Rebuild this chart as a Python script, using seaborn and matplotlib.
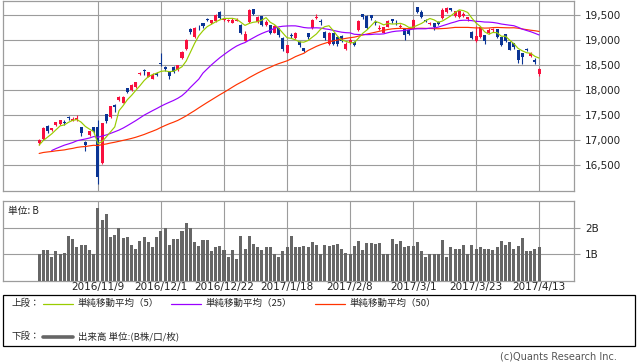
import numpy as np
import pandas as pd
import matplotlib
matplotlib.use("Agg")
import matplotlib.pyplot as plt
import seaborn as sns
from matplotlib.lines import Line2D
from matplotlib.patches import Rectangle
from matplotlib.ticker import FuncFormatter, FixedLocator

# ---------------- data ----------------
dates = [
    "2016/10/19", "2016/10/20", "2016/10/21", "2016/10/24", "2016/10/25", "2016/10/26", "2016/10/27", "2016/10/28", "2016/10/31",
    "2016/11/1", "2016/11/2", "2016/11/4", "2016/11/7", "2016/11/8", "2016/11/9", "2016/11/10", "2016/11/11", "2016/11/14",
    "2016/11/15", "2016/11/16", "2016/11/17", "2016/11/18", "2016/11/21", "2016/11/22", "2016/11/24", "2016/11/25", "2016/11/28",
    "2016/11/29", "2016/11/30", "2016/12/1", "2016/12/2", "2016/12/5", "2016/12/6", "2016/12/7", "2016/12/8", "2016/12/9",
    "2016/12/12", "2016/12/13", "2016/12/14", "2016/12/15", "2016/12/16", "2016/12/19", "2016/12/20", "2016/12/21", "2016/12/22",
    "2016/12/26", "2016/12/27", "2016/12/28", "2016/12/29", "2016/12/30",
    "2017/1/4", "2017/1/5", "2017/1/6", "2017/1/10", "2017/1/11", "2017/1/12", "2017/1/13", "2017/1/16", "2017/1/17", "2017/1/18",
    "2017/1/19", "2017/1/20", "2017/1/23", "2017/1/24", "2017/1/25", "2017/1/26", "2017/1/27", "2017/1/30", "2017/1/31",
    "2017/2/1", "2017/2/2", "2017/2/3", "2017/2/6", "2017/2/7", "2017/2/8", "2017/2/9", "2017/2/10", "2017/2/13", "2017/2/14",
    "2017/2/15", "2017/2/16", "2017/2/17", "2017/2/20", "2017/2/21", "2017/2/22", "2017/2/23", "2017/2/24", "2017/2/27", "2017/2/28",
    "2017/3/1", "2017/3/2", "2017/3/3", "2017/3/6", "2017/3/7", "2017/3/8", "2017/3/9", "2017/3/10", "2017/3/13", "2017/3/14",
    "2017/3/15", "2017/3/16", "2017/3/17", "2017/3/21", "2017/3/22", "2017/3/23", "2017/3/24", "2017/3/27", "2017/3/28",
    "2017/3/29", "2017/3/30", "2017/3/31", "2017/4/3", "2017/4/4", "2017/4/5", "2017/4/6", "2017/4/7", "2017/4/10",
    "2017/4/11", "2017/4/12", "2017/4/13",
]

opens = [
    16950, 17030, 17280, 17200, 17300, 17320, 17350, 17460, 17390,
    17400, 17260, 16970, 17100, 17250, 17255, 16540, 17514, 17460,
    17690, 17800, 17750, 18034, 18000, 18066, 18320, 18400, 18270,
    18230, 18330, 18546, 18466, 18366, 18460, 18400, 18634, 18814,
    19214, 19060, 19265, 19334, 19420, 19334, 19386, 19566, 19400,
    19385, 19350, 19390, 19300, 18990,
    19366, 19615, 19370, 19480, 19300, 19300, 19150, 19234, 19046, 18750,
    19100, 19040, 18966, 18830, 19130, 19234, 19440, 19380, 19166,
    18920, 19134, 19066, 19080, 18820, 18934, 18966, 19200, 19520, 19480,
    19500, 19366, 19220, 19150, 19270, 19414, 19385, 19260, 19214, 19200,
    19234, 19666, 19566, 19400, 19320, 19334, 19366, 19434, 19560, 19634,
    19490, 19460, 19480, 19414, 19166, 18990, 19060, 19100, 19140,
    19200, 19214, 19054, 19120, 18966, 18934, 18800, 18734, 18810,
    18680, 18600, 18330,
]

highs = [
    17020, 17260, 17300, 17250, 17370, 17400, 17400, 17480, 17455,
    17500, 17270, 16990, 17190, 17260, 17400, 17350, 17530, 17690,
    17720, 17880, 17880, 18050, 18120, 18170, 18354, 18420, 18370,
    18340, 18360, 18746, 18480, 18380, 18480, 18510, 18790, 19030,
    19240, 19260, 19300, 19350, 19440, 19410, 19520, 19590, 19440,
    19430, 19440, 19440, 19320, 19180,
    19615, 19630, 19480, 19490, 19400, 19310, 19300, 19250, 19060, 18910,
    19134, 19170, 18980, 18840, 19140, 19420, 19520, 19420, 19180,
    19166, 19140, 19080, 19100, 18966, 19040, 18990, 19400, 19530, 19500,
    19510, 19400, 19300, 19266, 19400, 19430, 19400, 19330, 19220, 19214,
    19414, 19670, 19600, 19420, 19366, 19340, 19380, 19640, 19660, 19650,
    19580, 19600, 19560, 19470, 19180, 19280, 19290, 19110, 19240,
    19240, 19220, 19070, 19130, 18980, 18950, 18810, 18740, 18834,
    18766, 18640, 18440,
]

lows = [
    16900, 17010, 17150, 17180, 17280, 17310, 17300, 17400, 17380,
    17380, 17080, 16790, 17080, 17140, 16111, 16530, 17350, 17450,
    17560, 17790, 17740, 17940, 17990, 18050, 18300, 18300, 18260,
    18220, 18290, 18490, 18380, 18230, 18350, 18390, 18620, 18800,
    19120, 19040, 19200, 19250, 19380, 19320, 19370, 19430, 19380,
    19370, 19340, 19380, 19130, 18980,
    19350, 19500, 19350, 19290, 19290, 19120, 19140, 19060, 18780, 18740,
    19040, 19030, 18870, 18760, 19020, 19220, 19430, 19300, 19000,
    18900, 18900, 18880, 18960, 18800, 18920, 18880, 19180, 19420, 19214,
    19400, 19300, 19200, 19134, 19260, 19346, 19300, 19240, 19000, 19100,
    19220, 19540, 19440, 19360, 19300, 19200, 19300, 19420, 19540, 19590,
    19470, 19440, 19470, 19390, 19020, 18970, 19050, 18930, 19120,
    19160, 19050, 18890, 18960, 18800, 18830, 18540, 18517, 18786,
    18666, 18530, 18290,
]

closes = [
    16999, 17235, 17185, 17234, 17365, 17392, 17336, 17446, 17425,
    17442, 17135, 16905, 17177, 17171, 16251, 17344, 17375, 17673,
    17668, 17862, 17863, 17967, 18106, 18163, 18333, 18381, 18357,
    18307, 18308, 18513, 18426, 18275, 18361, 18497, 18765, 18996,
    19155, 19250, 19254, 19274, 19401, 19392, 19495, 19444, 19428,
    19397, 19403, 19402, 19145, 19114,
    19594, 19521, 19454, 19301, 19365, 19135, 19287, 19095, 18814, 18894,
    19072, 19138, 18891, 18788, 19057, 19402, 19467, 19369, 19041,
    19148, 18915, 18918, 18977, 18911, 19008, 18908, 19379, 19459, 19239,
    19438, 19348, 19235, 19251, 19381, 19380, 19371, 19284, 19107, 19119,
    19394, 19565, 19469, 19379, 19344, 19254, 19319, 19605, 19634, 19610,
    19577, 19590, 19522, 19456, 19041, 19085, 19263, 18986, 19203,
    19217, 19063, 18909, 18983, 18810, 18861, 18597, 18665, 18798,
    18748, 18553, 18427,
]

# closes of the 49 sessions before the first candle (used for the moving averages)
prior_closes = [
    16254, 16651, 16765, 16735, 16920, 16870, 16597, 16746, 16486, 16546,
    16598, 16497, 16597, 16556, 16361, 16737, 16725, 16887, 16927, 16926,
    17038, 17082, 17012, 16959, 16966, 16673, 16729, 16614, 16405, 16519,
    16492, 16808, 16754, 16545, 16684, 16465, 16694, 16450, 16599, 16736,
    16819, 16899, 16860, 17025, 16840, 16774, 16856, 16900, 16964,
]

volume_b = [
    1.02, 1.14, 1.14, 0.88, 1.10, 0.99, 1.06, 1.69, 1.58, 1.25,
    1.36, 1.36, 1.14, 1.02, 2.73, 2.28, 2.51, 1.65, 1.73, 1.99,
    1.62, 1.65, 1.36, 1.21, 1.51, 1.65, 1.47, 1.25, 1.65, 1.88,
    1.99, 1.36, 1.58, 1.58, 1.88, 2.17, 1.99, 1.47, 1.32, 1.54,
    1.54, 1.10, 1.25, 1.32, 1.17, 0.88, 1.14, 0.80, 1.69, 1.21,
    1.69, 1.40, 1.25, 1.17, 1.28, 1.25, 0.99, 0.88, 1.10, 1.25,
    1.69, 1.25, 1.25, 1.32, 1.25, 1.47, 1.36, 0.99, 1.36, 1.32,
    1.36, 1.40, 1.21, 1.06, 1.02, 1.32, 1.51, 1.17, 1.43, 1.43,
    1.40, 1.43, 0.99, 1.02, 1.58, 1.40, 1.51, 1.25, 1.32, 1.32,
    1.47, 1.10, 0.88, 0.99, 1.02, 1.02, 1.54, 0.91, 1.25, 1.21,
    1.21, 1.36, 1.02, 1.36, 1.21, 1.28, 1.21, 1.21, 1.14, 1.25,
    1.51, 1.36, 1.47, 1.21, 1.32, 1.62, 1.10, 1.10, 1.21, 1.28,
]

tick_dates = ["2016/11/9", "2016/12/1", "2016/12/22", "2017/1/18",
              "2017/2/8", "2017/3/1", "2017/3/23", "2017/4/13"]
price_ticks = [16500, 17000, 17500, 18000, 18500, 19000, 19500]
volume_ticks = [1, 2]
volume_tick_labels = ["1B", "2B"]

legend_upper = ["単純移動平均（5）", "単純移動平均（25）", "単純移動平均（50）"]
legend_lower = "出来高 単位:(B株/口/枚)"

# ---------------- derived ----------------
n = len(closes)
idx = np.arange(n)
df = pd.DataFrame({"i": idx, "date": dates, "open": opens, "high": highs,
                   "low": lows, "close": closes, "vol": volume_b})
allc = pd.Series(prior_closes + closes, dtype=float)
k = len(prior_closes)
df["ma5"] = allc.rolling(5).mean().values[k:]
df["ma25"] = allc.rolling(25).mean().values[k:]
df["ma50"] = allc.rolling(50).mean().values[k:]
df.loc[df.index < 3, "ma25"] = np.nan
tick_pos = [dates.index(d) for d in tick_dates]

# ---------------- style ----------------
W, H = 638, 362
sns.set_style("white")
plt.rcParams["font.family"] = ["DejaVu Sans", "Noto Sans CJK JP"]
JP = ["Noto Sans CJK JP", "DejaVu Sans"]

RED = "#f8103e"
BLUE = "#0a3494"
C5 = "#99cc00"
C25 = "#9a00ff"
C50 = "#ff3300"
GRID = "#9c9c9c"
VOLC = "#666666"

fig = plt.figure(figsize=(W / 100, H / 100), dpi=100)
fig.patch.set_facecolor("white")


def rect(x0, y0, x1, y1):
    return [x0 / W, 1 - y1 / H, (x1 - x0) / W, (y1 - y0) / H]


def fx(x):
    return x / W


def fy(y):
    return 1 - y / H


XL = (-8.6, 127.3)
axp = fig.add_axes(rect(3, 1, 574, 190.7))
axv = fig.add_axes(rect(3, 201, 574, 280.7))

# ---- price panel ----
up = df["close"] >= df["open"]
colors = np.where(up, RED, BLUE)
axp.vlines(df["i"], df["low"], df["high"], colors=colors, linewidth=0.8, zorder=3)
body_bottom = np.minimum(df["open"], df["close"])
body_h = np.maximum(np.abs(df["close"] - df["open"]), 14)
axp.bar(df["i"], body_h, bottom=body_bottom, width=0.72, color=colors,
        linewidth=0, zorder=4)
sns.lineplot(data=df, x="i", y="ma50", color=C50, linewidth=0.85, ax=axp, zorder=5)
sns.lineplot(data=df, x="i", y="ma25", color=C25, linewidth=0.85, ax=axp, zorder=5)
sns.lineplot(data=df, x="i", y="ma5", color=C5, linewidth=0.85, ax=axp, zorder=6)

axp.set_xlim(*XL)
axp.set_ylim(15986, 19780)
axp.yaxis.set_major_locator(FixedLocator(price_ticks))
axp.yaxis.set_major_formatter(FuncFormatter(lambda v, p: f"{int(v):,}"))
axp.yaxis.tick_right()
axp.xaxis.set_major_locator(FixedLocator(tick_pos))
axp.set_xticklabels([])
axp.tick_params(axis="x", length=0)
axp.tick_params(axis="y", right=True, left=False, direction="out", length=4,
                width=0.8, color=GRID, labelsize=7.5, pad=4, labelcolor="#222222")
axp.grid(True, color=GRID, linewidth=0.8)
axp.set_axisbelow(True)
axp.set_xlabel("")
axp.set_ylabel("")
for s in axp.spines.values():
    s.set_color(GRID)
    s.set_linewidth(0.9)

# ---- volume panel ----
sns.barplot(data=df, x="i", y="vol", native_scale=True, width=0.72, color=VOLC,
            saturation=1, errorbar=None, linewidth=0, ax=axv, zorder=3)
axv.set_xlim(*XL)
axv.set_ylim(0, 3.0)
axv.yaxis.set_major_locator(FixedLocator(volume_ticks))
axv.set_yticklabels(volume_tick_labels)
axv.yaxis.tick_right()
axv.xaxis.set_major_locator(FixedLocator(tick_pos))
axv.set_xticklabels(tick_dates)
axv.tick_params(axis="x", length=0, labelsize=7.5, pad=1.0, labelcolor="#222222")
axv.tick_params(axis="y", right=True, left=False, direction="out", length=4,
                width=0.8, color=GRID, labelsize=7.5, pad=4, labelcolor="#222222")
axv.grid(True, color=GRID, linewidth=0.8)
axv.set_axisbelow(True)
axv.set_xlabel("")
axv.set_ylabel("")
for s in axv.spines.values():
    s.set_color(GRID)
    s.set_linewidth(0.9)
axv.text(0.008, 0.88, "単位: B", transform=axv.transAxes, fontsize=7,
         family=JP, va="center", ha="left", color="#222222")

# ---- legend box ----
fig.add_artist(Rectangle((fx(3), fy(346)), (635 - 3) / W, (346 - 294.5) / H,
                         transform=fig.transFigure, fill=False,
                         edgecolor="black", linewidth=0.9))
ly1, ly2 = 303.5, 336.5
fig.text(fx(11), fy(ly1), "上段：", family=JP, fontsize=6.8, va="center", ha="left")
fig.text(fx(11), fy(ly2), "下段：", family=JP, fontsize=6.8, va="center", ha="left")
for (x0, col, lab) in [(43, C5, legend_upper[0]), (171, C25, legend_upper[1]),
                       (315, C50, legend_upper[2])]:
    fig.add_artist(Line2D([fx(x0), fx(x0 + 30)], [fy(ly1), fy(ly1)],
                          transform=fig.transFigure, color=col, linewidth=0.9))
    fig.text(fx(x0 + 35), fy(ly1), lab, family=JP, fontsize=6.8,
             va="center", ha="left")
fig.add_artist(Line2D([fx(43), fx(73)], [fy(ly2), fy(ly2)],
                      transform=fig.transFigure, color=VOLC, linewidth=2.6))
fig.text(fx(78), fy(ly2), legend_lower, family=JP, fontsize=6.8,
         va="center", ha="left")

fig.text(fx(617), fy(356.5), "(c)Quants Research Inc.", fontsize=7,
         color="#555555", va="center", ha="right")

fig.savefig("out.png", dpi=100, facecolor="white")
